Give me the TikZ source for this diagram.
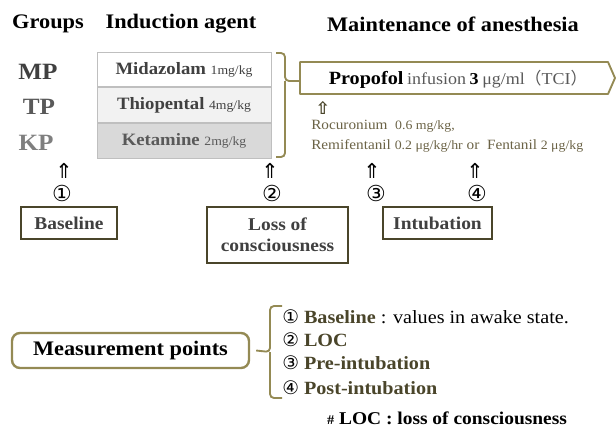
\documentclass[tikz,border=0pt]{standalone}
\usepackage{fontspec}
\setmainfont[FakeStretch=1.08]{Liberation Serif}
\newfontfamily\symfont{DejaVu Sans}
\newfontfamily\cjkfont{Noto Sans CJK JP}
\usetikzlibrary{shadows}
\definecolor{tanline}{HTML}{948A54}
\definecolor{darkolive}{HTML}{4A452A}
\definecolor{olivetext}{HTML}{6B6346}
\definecolor{grayA}{HTML}{404040}
\definecolor{grayB}{HTML}{595959}
\definecolor{grayC}{HTML}{7F7F7F}
\tikzstyle{heading}=[font=\fontsize{15.5}{18}\selectfont\bfseries,inner sep=0pt]
\tikzstyle{group}=[font=\fontsize{17.5}{20}\selectfont\bfseries,inner sep=0pt]
\tikzstyle{drugbox}=[draw=black!25,line width=0.6pt,minimum width=130.5pt,minimum height=26pt,inner sep=0pt,drop shadow={opacity=0.3,shadow xshift=0.8pt,shadow yshift=-0.8pt},font=\fontsize{13}{15}\selectfont\bfseries]
\tikzstyle{pointbox}=[draw=darkolive,line width=1.3pt,fill=white,font=\fontsize{13.5}{16}\selectfont\bfseries,text=grayA,inner sep=0pt,align=center]
\tikzstyle{bracket}=[draw=tanline,line width=1.4pt,rounded corners=3pt]
\tikzstyle{uparrow}=[font=\symfont\fontsize{15.5}{17}\selectfont,inner sep=0pt]
\tikzstyle{circnum}=[font=\symfont\fontsize{16.5}{18}\selectfont,inner sep=0pt]
\tikzstyle{listitem}=[anchor=west,font=\fontsize{14}{16}\selectfont,inner sep=0pt]
\newcommand{\dose}[1]{{\fontsize{9.5}{11}\selectfont\mdseries #1}}

\begin{document}
\begin{tikzpicture}[x=0.75pt,y=-0.75pt]
  \useasboundingbox (0,0) rectangle (616,430);

  % HEADINGS
  \node[heading] (hgroups) at (48,24) {Groups};
  \node[heading] (hinduct) at (181,24) {Induction agent};
  \node[heading] (hmaint) at (453,24) {Maintenance of anesthesia};

  % GROUPS
  \node[group,text=grayA] (mp) at (38,72) {MP};
  \node[group,text=grayB] (tp) at (39,107) {TP};
  \node[group,text=grayC] (kp) at (36,143) {KP};

  % INDUCTION AGENTS
  \node[drugbox,fill=white,text=grayA] (mid) at (184,69.5) {Midazolam \dose{1mg/kg}};
  \node[drugbox,fill=black!5,text=grayA] (thio) at (184,105) {Thiopental \dose{4mg/kg}};
  \node[drugbox,fill=black!15,text=grayB] (ket) at (184,141) {Ketamine \dose{2mg/kg}};

  % MAINTENANCE
  \draw[tanline,line width=1.4pt,line join=round] (300,62) -- (608,62) -- (615,78) -- (608,94) -- (300,94) -- cycle;
  \node (propofol) at (458,79) {{\fontsize{14}{16}\selectfont\bfseries Propofol}
    {\fontsize{12.5}{14}\selectfont\color{grayB}infusion} {\fontsize{12.5}{14}\selectfont\bfseries 3}
    {\fontsize{12.5}{14}\selectfont\color{grayB}μg/ml{\cjkfont （}TCI{\cjkfont ）}}};
  \coordinate (propin) at (300,81);
  \draw[bracket] (276,53) -- (285,53) -- (285,81) -- (propin);
  \draw[bracket] (276,157) -- (285,157) -- (285,81);

  \node[uparrow,text=darkolive,font=\symfont\bfseries\fontsize{13}{15}\selectfont] (addarrow) at (323,108) {⇧};
  \node[anchor=west,inner sep=0pt,text=olivetext,font=\fontsize{10.6}{13}\selectfont] (rocu) at (311,126)
    {Rocuronium\ \ {\fontsize{9.6}{12}\selectfont 0.6 mg/kg,}};
  \node[anchor=west,inner sep=0pt,text=olivetext,font=\fontsize{10.6}{13}\selectfont] (remi) at (311,146)
    {Remifentanil {\fontsize{9.6}{12}\selectfont 0.2 μg/kg/hr} or\ \ Fentanil {\fontsize{9.6}{12}\selectfont 2 μg/kg}};

  % MEASUREMENT TIMES
  \node[uparrow] (up1) at (64,171) {⇑};
  \node[uparrow] (up2) at (270,171) {⇑};
  \node[uparrow] (up3) at (372,171) {⇑};
  \node[uparrow] (up4) at (475,171) {⇑};
  \node[circnum] (num1) at (62,193) {①};
  \node[circnum] (num2) at (272,193) {②};
  \node[circnum] (num3) at (376,193) {③};
  \node[circnum] (num4) at (477,193) {④};

  \node[pointbox,minimum width=72pt,minimum height=24pt] (base) at (69,223) {Baseline};
  \node[pointbox,minimum width=105.75pt,minimum height=42pt] (loc) at (277.5,235) {Loss of\\consciousness};
  \node[pointbox,minimum width=81.75pt,minimum height=24pt] (intub) at (437.5,223) {Intubation};

  % MEASUREMENT POINTS
  \node[draw=tanline,line width=1.8pt,rounded corners=6pt,minimum width=177.75pt,minimum height=26.25pt,
    font=\fontsize{15.5}{18}\selectfont\bfseries] (measure) at (130.5,350.5) {Measurement points};
  \coordinate (listtip) at ([xshift=4.5pt]measure.east);
  \draw[bracket] (282,306) -- (270,306) -- (270,352) -- (listtip);
  \draw[bracket] (282,398) -- (270,398) -- (270,352);

  \node[listitem] (item1) at (282,317) {{\symfont ①} {\bfseries\color{darkolive}Baseline} : values in awake state.};
  \node[listitem] (item2) at (282,340) {{\symfont ②} {\bfseries\color{darkolive}LOC}};
  \node[listitem] (item3) at (282,363) {{\symfont ③} {\bfseries\color{darkolive}Pre-intubation}};
  \node[listitem] (item4) at (282,388) {{\symfont ④} {\bfseries\color{darkolive}Post-intubation}};

  \node[font=\fontsize{13.5}{16}\selectfont\bfseries,inner sep=0pt] (note) at (447,418)
    {{\fontsize{10}{12}\selectfont\#} LOC : loss of consciousness};

\end{tikzpicture}
\end{document}
